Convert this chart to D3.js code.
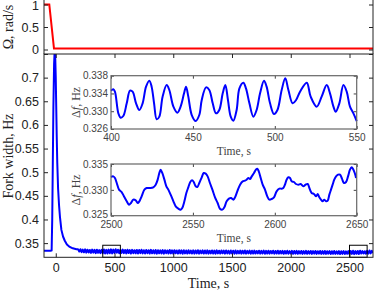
<!DOCTYPE html>
<html>
<head>
<meta charset="utf-8">
<script src="https://cdn.jsdelivr.net/npm/d3@7"></script>
<style>
  html, body { margin: 0; padding: 0; background: #fff; }
  svg { display: block; font-family: "Liberation Serif", "DejaVu Serif", serif; }
</style>
</head>
<body>
<div id="chart"></div>
<script>
// rotation rate (top panel)
const omegaTime = [-100, -55, -15, 2700];
const omegaValue = [1, 1, 0.02, 0.02];

// fork width: spike part
const spikeTime = [-100, -70, -45, -35, -30, -25, -20, -14, -9, -4, 0, 4, 8, 13, 20, 28, 36, 48, 62, 77, 95, 119, 145, 176];
const spikeValue = [0.334, 0.334, 0.334, 0.3342, 0.40, 0.52, 0.64, 0.73, 0.758, 0.74, 0.70, 0.64, 0.58, 0.52, 0.465, 0.43, 0.405, 0.378, 0.364, 0.355, 0.347, 0.342, 0.339, 0.337];

// fork width: slow part, one sample every 10 s from t = 190 s
const tailStart = 190, tailStep = 10;
const tailValue = [
  0.3368, 0.3321, 0.3372, 0.3309, 0.3363, 0.3305, 0.3367, 0.3298, 0.3360, 0.3302,
  0.3356, 0.3294, 0.3362, 0.3299, 0.3357, 0.3288, 0.3361, 0.3295, 0.3353, 0.3289,
  0.3358, 0.3285, 0.3366, 0.3281, 0.3357, 0.3280, 0.3363, 0.3287, 0.3368, 0.3283,
  0.3362, 0.3291, 0.3371, 0.3296, 0.3360, 0.3286, 0.3357, 0.3292, 0.3363, 0.3288,
  0.3354, 0.3283, 0.3361, 0.3290, 0.3352, 0.3279, 0.3358, 0.3286, 0.3350, 0.3284,
  0.3356, 0.3281, 0.3353, 0.3288, 0.3360, 0.3283, 0.3349, 0.3280, 0.3355, 0.3287,
  0.3351, 0.3279, 0.3357, 0.3284, 0.3348, 0.3282, 0.3354, 0.3278, 0.3350, 0.3285,
  0.3346, 0.3281, 0.3352, 0.3277, 0.3349, 0.3286, 0.3345, 0.3280, 0.3353, 0.3283,
  0.3347, 0.3278, 0.3351, 0.3284, 0.3344, 0.3279, 0.3350, 0.3282, 0.3346, 0.3276,
  0.3349, 0.3283, 0.3343, 0.3279, 0.3348, 0.3285, 0.3342, 0.3280, 0.3347, 0.3277,
  0.3344, 0.3282, 0.3349, 0.3278, 0.3341, 0.3284, 0.3346, 0.3279, 0.3343, 0.3281,
  0.3347, 0.3277, 0.3340, 0.3283, 0.3345, 0.3280, 0.3342, 0.3276, 0.3346, 0.3282,
  0.3339, 0.3279, 0.3344, 0.3284, 0.3341, 0.3277, 0.3345, 0.3281, 0.3338, 0.3278,
  0.3343, 0.3283, 0.3340, 0.3276, 0.3344, 0.3280, 0.3337, 0.3282, 0.3342, 0.3277,
  0.3339, 0.3281, 0.3343, 0.3278, 0.3336, 0.3283, 0.3341, 0.3276, 0.3338, 0.3280,
  0.3342, 0.3279, 0.3335, 0.3282, 0.3340, 0.3277, 0.3337, 0.3281, 0.3341, 0.3275,
  0.3336, 0.3280, 0.3339, 0.3278, 0.3334, 0.3283, 0.3338, 0.3276, 0.3335, 0.3279,
  0.3339, 0.3277, 0.3333, 0.3281, 0.3337, 0.3275, 0.3334, 0.3280, 0.3338, 0.3276,
  0.3332, 0.3279, 0.3336, 0.3274, 0.3333, 0.3278, 0.3337, 0.3275, 0.3331, 0.3280,
  0.3335, 0.3273, 0.3332, 0.3277, 0.3336, 0.3274, 0.3330, 0.3278, 0.3334, 0.3272,
  0.3331, 0.3276, 0.3335, 0.3273, 0.3329, 0.3277, 0.3333, 0.3271, 0.3330, 0.3275,
  0.3334, 0.3272, 0.3328, 0.3276, 0.3332, 0.3270, 0.3329, 0.3274, 0.3333, 0.3271,
  0.3327, 0.3275, 0.3331, 0.3269, 0.3328, 0.3273, 0.3332, 0.3270, 0.3326, 0.3274,
  0.3331, 0.3268, 0.3334, 0.3272, 0.3338, 0.3267, 0.3330, 0.3275, 0.3335, 0.3269,
  0.3340, 0.3279, 0.3331, 0.3282, 0.3329, 0.3276, 0.3337, 0.3278, 0.3344, 0.3283,
  0.3336, 0.3290
];

// inset 1 : 400 - 550 s
const zoom1Time = [400.0, 401.4, 402.4, 404.5, 405.9, 407.5, 409.6, 411.6, 413.2, 415.3, 417.3, 419.3, 421.4, 423.4, 424.8, 426.3, 427.9, 429.5, 431.5, 434.0, 435.6, 438.1, 440.5, 442.5, 444.6, 445.8, 447.2, 449.3, 451.7, 453.9, 455.4, 458.0, 460.0, 462.1, 464.1, 466.1, 468.2, 469.8, 471.4, 473.1, 474.7, 476.7, 478.4, 480.8, 482.4, 484.5, 486.9, 488.9, 491.0, 493.4, 495.0, 497.1, 499.5, 501.6, 504.2, 506.4, 508.3, 510.9, 513.0, 515.4, 519.5, 521.9, 525.6, 528.6, 531.7, 533.7, 535.8, 537.2, 539.4, 541.9, 543.9, 545.9, 548.0, 550.0];
const zoom1Value = [0.33463, 0.33493, 0.33440, 0.32953, 0.32855, 0.32893, 0.33178, 0.33463, 0.33440, 0.33178, 0.33028, 0.33178, 0.33553, 0.33688, 0.33553, 0.33178, 0.32818, 0.32878, 0.33328, 0.33590, 0.33478, 0.33103, 0.32968, 0.33103, 0.33403, 0.33553, 0.33328, 0.32915, 0.32780, 0.32915, 0.33253, 0.33538, 0.33478, 0.33178, 0.32953, 0.33028, 0.33403, 0.33590, 0.33253, 0.32878, 0.32788, 0.33028, 0.33515, 0.33643, 0.33515, 0.33178, 0.32878, 0.33028, 0.33403, 0.33688, 0.33553, 0.33178, 0.32938, 0.33028, 0.33478, 0.33740, 0.33478, 0.33178, 0.33253, 0.33440, 0.33643, 0.33328, 0.33103, 0.33328, 0.33590, 0.33403, 0.33103, 0.32990, 0.33178, 0.33590, 0.33440, 0.33103, 0.32953, 0.32780];

// inset 2 : 2500 - 2650 s
const zoom2Time = [2500.0, 2501.4, 2502.4, 2503.5, 2504.9, 2506.5, 2507.9, 2509.6, 2511.0, 2512.2, 2513.6, 2515.1, 2516.3, 2517.3, 2518.7, 2520.4, 2521.8, 2523.8, 2525.8, 2527.3, 2528.5, 2529.5, 2530.3, 2531.3, 2532.6, 2533.8, 2535.0, 2536.4, 2538.1, 2539.5, 2541.1, 2542.5, 2543.5, 2544.8, 2546.0, 2547.2, 2548.4, 2549.5, 2550.5, 2551.7, 2552.7, 2553.9, 2555.4, 2556.6, 2557.8, 2559.0, 2560.4, 2561.9, 2563.5, 2565.1, 2566.5, 2568.0, 2569.2, 2570.6, 2572.0, 2573.3, 2574.7, 2575.7, 2577.1, 2578.8, 2580.4, 2581.8, 2582.8, 2583.8, 2584.9, 2585.9, 2587.3, 2588.5, 2589.3, 2590.2, 2591.4, 2592.6, 2594.0, 2595.4, 2596.7, 2598.1, 2599.5, 2601.1, 2602.8, 2604.2, 2605.2, 2606.2, 2607.2, 2608.3, 2609.3, 2610.3, 2611.7, 2612.9, 2614.4, 2615.8, 2617.4, 2618.8, 2620.1, 2621.1, 2622.5, 2623.9, 2625.2, 2626.2, 2627.2, 2628.2, 2629.2, 2630.2, 2631.3, 2632.3, 2633.3, 2634.3, 2635.3, 2636.3, 2637.4, 2638.6, 2639.8, 2641.0, 2642.2, 2643.5, 2644.7, 2645.9, 2646.9, 2648.0, 2648.8, 2649.6];
const zoom2Value = [0.33249, 0.33261, 0.33229, 0.33133, 0.33004, 0.32958, 0.32875, 0.32778, 0.32713, 0.32746, 0.32810, 0.32797, 0.32746, 0.32778, 0.32875, 0.33004, 0.33036, 0.33036, 0.33049, 0.33100, 0.33197, 0.33326, 0.33390, 0.33326, 0.33197, 0.33068, 0.33004, 0.32907, 0.32778, 0.32681, 0.32636, 0.32617, 0.32649, 0.32778, 0.32939, 0.33049, 0.33152, 0.33184, 0.33152, 0.33068, 0.33055, 0.33133, 0.33242, 0.33326, 0.33313, 0.33261, 0.33133, 0.33004, 0.32855, 0.32746, 0.32636, 0.32617, 0.32662, 0.32778, 0.32830, 0.32842, 0.32810, 0.32855, 0.32971, 0.33100, 0.33165, 0.33178, 0.33197, 0.33229, 0.33210, 0.33261, 0.33326, 0.33390, 0.33410, 0.33358, 0.33229, 0.33100, 0.33004, 0.32875, 0.32810, 0.32823, 0.32855, 0.32971, 0.33023, 0.33023, 0.33036, 0.33100, 0.33197, 0.33242, 0.33229, 0.33165, 0.33152, 0.33113, 0.33100, 0.33113, 0.33068, 0.33100, 0.33113, 0.33036, 0.32939, 0.32920, 0.32875, 0.32920, 0.32855, 0.32810, 0.32778, 0.32810, 0.32778, 0.32791, 0.32907, 0.33004, 0.33100, 0.33197, 0.33261, 0.33294, 0.33294, 0.33216, 0.33133, 0.33152, 0.33261, 0.33390, 0.33436, 0.33390, 0.33326, 0.33229];

// ticks
const timeTicks = [0, 500, 1000, 1500, 2000, 2500];
const omegaTicks = [0, 0.5, 1];
const widthTicks = [0.35, 0.4, 0.45, 0.5, 0.55, 0.6, 0.65, 0.7, 0.75];
const zoom1TimeTicks = [400, 450, 500, 550];
const zoom1ValueTicks = [0.326, 0.330, 0.334, 0.338];
const zoom2TimeTicks = [2500, 2550, 2600, 2650];
const zoom2ValueTicks = [0.325, 0.330, 0.335];
const boxWindows = [[400, 550], [2500, 2650]];

const W = 374, H = 292;
const svg = d3.select("#chart").append("svg").attr("width", W).attr("height", H);

const left = 44, right = 373;
const x = d3.scaleLinear().domain([-100, 2700]).range([left, right]);
const yTop = d3.scaleLinear().domain([-0.1, 1.1]).range([54, 0]);
const yMain = d3.scaleLinear().domain([0.32, 0.75]).range([257.3, 54]);

const defs = svg.append("defs");
defs.append("clipPath").attr("id", "clipTop")
  .append("rect").attr("x", left).attr("y", 0).attr("width", right - left).attr("height", 54);
defs.append("clipPath").attr("id", "clipMain")
  .append("rect").attr("x", left).attr("y", 54).attr("width", right - left).attr("height", 257.3 - 54);

const ink = "#222";

const styleAxis = (g, size) => {
  g.select(".domain").remove();
  g.selectAll("line").attr("stroke", ink);
  g.selectAll("text").attr("fill", ink).style("font-size", size);
};

// --- top panel ---
const topPanel = svg.append("g");
topPanel.append("path")
  .datum(omegaTime.map((t, i) => [t, omegaValue[i]]))
  .attr("clip-path", "url(#clipTop)")
  .attr("fill", "none").attr("stroke", "#f00").attr("stroke-width", 2)
  .attr("d", d3.line().x(d => x(d[0])).y(d => yTop(d[1])));

topPanel.append("g").attr("transform", `translate(${left},0)`)
  .call(d3.axisLeft(yTop).tickValues(omegaTicks).tickSize(-4).tickPadding(5).tickFormat(d3.format("")))
  .call(g => styleAxis(g, "12.5px"))
  .call(g => g.selectAll("text").filter(d => d === 1).attr("dy", "0.42em"));
topPanel.append("g").attr("transform", `translate(${right},0)`)
  .call(d3.axisRight(yTop).tickValues(omegaTicks).tickSize(-4).tickFormat(""))
  .call(g => styleAxis(g, "12.5px"));
topPanel.append("line").attr("x1", left).attr("x2", left).attr("y1", 0).attr("y2", 54).attr("stroke", ink);
topPanel.append("line").attr("x1", right).attr("x2", right).attr("y1", 0).attr("y2", 54).attr("stroke", ink);

topPanel.append("text")
  .attr("transform", `translate(8,27) rotate(-90)`)
  .attr("text-anchor", "middle").attr("dy", "0.35em")
  .attr("fill", ink).style("font-size", "14px")
  .text("Ω, rad/s");

// --- main panel ---
const mainPanel = svg.append("g");
const tailTime = tailValue.map((v, i) => tailStart + i * tailStep);
const mainData = spikeTime.map((t, i) => [t, spikeValue[i]])
  .concat(tailTime.map((t, i) => [t, tailValue[i]]));

mainPanel.append("path")
  .datum(mainData)
  .attr("clip-path", "url(#clipMain)")
  .attr("fill", "none").attr("stroke", "#00f").attr("stroke-width", 2)
  .attr("stroke-linejoin", "round")
  .attr("d", d3.line().x(d => x(d[0])).y(d => yMain(d[1])));

// small boxes marking the zoomed windows
mainPanel.selectAll("rect.win").data(boxWindows).join("rect")
  .attr("class", "win")
  .attr("x", d => x(d[0])).attr("width", d => x(d[1]) - x(d[0]))
  .attr("y", yMain(0.3455)).attr("height", yMain(0.32) - yMain(0.3455))
  .attr("fill", "none").attr("stroke", "#000").attr("stroke-width", 1);

mainPanel.append("g").attr("transform", `translate(0,257.3)`)
  .call(d3.axisBottom(x).tickValues(timeTicks).tickSize(-4).tickPadding(6).tickFormat(d3.format("")))
  .call(g => styleAxis(g, "12.5px"));
mainPanel.append("g").attr("transform", `translate(0,54)`)
  .call(d3.axisTop(x).tickValues(timeTicks).tickSize(-4).tickFormat(""))
  .call(g => styleAxis(g, "12.5px"));
mainPanel.append("g").attr("transform", `translate(${left},0)`)
  .call(d3.axisLeft(yMain).tickValues(widthTicks).tickSize(-4).tickPadding(5)
    .tickFormat(d => d >= 0.749 ? "" : d3.format("")(+d.toFixed(2))))
  .call(g => styleAxis(g, "12.5px"));
mainPanel.append("g").attr("transform", `translate(${right},0)`)
  .call(d3.axisRight(yMain).tickValues(widthTicks).tickSize(-4).tickFormat(""))
  .call(g => styleAxis(g, "12.5px"));

mainPanel.append("rect")
  .attr("x", left).attr("y", 54).attr("width", right - left).attr("height", 257.3 - 54)
  .attr("fill", "none").attr("stroke", ink).attr("stroke-width", 1);

mainPanel.append("text")
  .attr("x", (left + right) / 2).attr("y", 288)
  .attr("text-anchor", "middle").attr("fill", ink).style("font-size", "14px")
  .text("Time, s");
mainPanel.append("text")
  .attr("transform", `translate(8,156) rotate(-90)`)
  .attr("text-anchor", "middle").attr("dy", "0.35em")
  .attr("fill", ink).style("font-size", "14px")
  .text("Fork width, Hz");

// --- insets ---
function drawInset(cfg) {
  const g = svg.append("g");
  const ix = d3.scaleLinear().domain(cfg.xDomain).range([111, 356.7]);
  const iy = d3.scaleLinear().domain(cfg.yDomain).range([cfg.bottom, cfg.top]);
  const grey = "#444";

  g.append("rect")
    .attr("x", 111).attr("y", cfg.top).attr("width", 356.7 - 111).attr("height", cfg.bottom - cfg.top)
    .attr("fill", "#fff");

  g.append("path")
    .datum(cfg.time.map((t, i) => [t, cfg.value[i]]))
    .attr("fill", "none").attr("stroke", "#00f").attr("stroke-width", 2)
    .attr("stroke-linejoin", "round")
    .attr("d", d3.line().x(d => ix(d[0])).y(d => iy(d[1])).curve(d3.curveCatmullRom));

  const st = sel => {
    sel.select(".domain").remove();
    sel.selectAll("line").attr("stroke", grey);
    sel.selectAll("text").attr("fill", grey).style("font-size", "10px");
  };
  g.append("g").attr("transform", `translate(0,${cfg.bottom})`)
    .call(d3.axisBottom(ix).tickValues(cfg.xTicks).tickSize(-3).tickPadding(5).tickFormat(d3.format("")))
    .call(st);
  g.append("g").attr("transform", `translate(0,${cfg.top})`)
    .call(d3.axisTop(ix).tickValues(cfg.xTicks).tickSize(-3).tickFormat(""))
    .call(st);
  g.append("g").attr("transform", `translate(111,0)`)
    .call(d3.axisLeft(iy).tickValues(cfg.yTicks).tickSize(-3).tickPadding(3).tickFormat(d3.format(".3f")))
    .call(st)
    .call(a => a.selectAll("text").filter(d => Math.abs(d - cfg.yDomain[0]) < 1e-9).attr("dy", "0.2em"));
  g.append("g").attr("transform", `translate(356.7,0)`)
    .call(d3.axisRight(iy).tickValues(cfg.yTicks).tickSize(-3).tickFormat(""))
    .call(st);

  g.append("rect")
    .attr("x", 111).attr("y", cfg.top).attr("width", 356.7 - 111).attr("height", cfg.bottom - cfg.top)
    .attr("fill", "none").attr("stroke", "#666").attr("stroke-width", 1.2);

  g.append("text")
    .attr("x", (111 + 356.7) / 2).attr("y", cfg.labelY)
    .attr("text-anchor", "middle").attr("fill", grey).style("font-size", "11.5px")
    .text("Time, s");

  const yl = g.append("text")
    .attr("transform", `translate(75.5,${(cfg.top + cfg.bottom) / 2}) rotate(-90)`)
    .attr("text-anchor", "middle").attr("dy", "0.35em")
    .attr("fill", grey).style("font-size", "12px");
  yl.append("tspan").text("Δ");
  yl.append("tspan").style("font-style", "italic").text("f");
  yl.append("tspan").text(", Hz");
}

drawInset({
  xDomain: [400, 550], yDomain: [0.326, 0.338], top: 75.7, bottom: 129,
  time: zoom1Time, value: zoom1Value, xTicks: zoom1TimeTicks, yTicks: zoom1ValueTicks, labelY: 155
});
drawInset({
  xDomain: [2500, 2650], yDomain: [0.325, 0.335], top: 164, bottom: 215.7,
  time: zoom2Time, value: zoom2Value, xTicks: zoom2TimeTicks, yTicks: zoom2ValueTicks, labelY: 241.5
});
</script>
</body>
</html>
